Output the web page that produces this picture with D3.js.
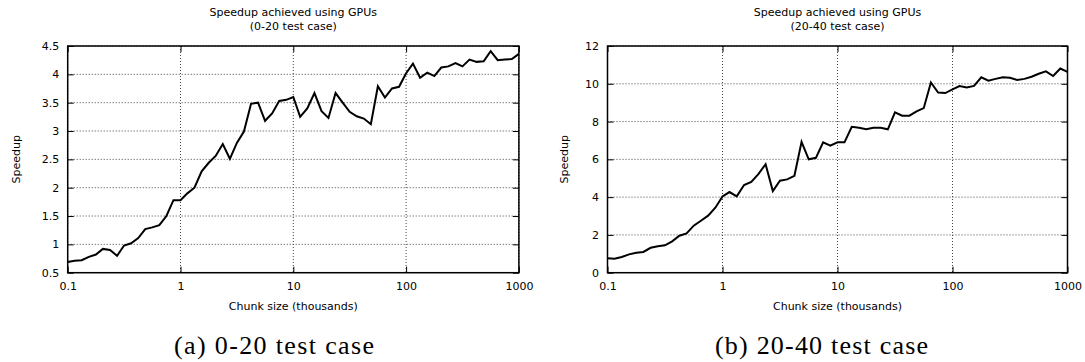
<!DOCTYPE html>
<head>
<meta charset="utf-8">
<title>Speedup achieved using GPUs</title>
<script type="text/javascript" src="https://d3js.org/d3.v7.min.js"></script>
<style>
body { margin: 0; background: #fff; }
svg { display: block; }
.tick text { font-family: "DejaVu Sans", sans-serif; font-size: 11px; fill: #000; }
.lbl { font-family: "DejaVu Sans", sans-serif; font-size: 11px; fill: #000; }
.cap { font-family: "Liberation Serif", serif; font-size: 26px; fill: #000; }
.grid line { stroke: #444; stroke-width: 1; stroke-dasharray: 1,2; }
</style>
</head>
<body>
<div id="container"></div>

<script>
//*******************
//data
//*******************
// chunk size in thousands (x axis, log scale)
const chunkSize = [
  0.1, 0.115, 0.133, 0.154, 0.178, 0.205, 0.237, 0.274, 0.316, 0.365, 0.422, 0.487, 0.562, 0.649, 0.75, 0.866,
  1, 1.15, 1.33, 1.54, 1.78, 2.05, 2.37, 2.74, 3.16, 3.65, 4.22, 4.87, 5.62, 6.49, 7.5, 8.66,
  10, 11.5, 13.3, 15.4, 17.8, 20.5, 23.7, 27.4, 31.6, 36.5, 42.2, 48.7, 56.2, 64.9, 75, 86.6,
  100, 115, 133, 154, 178, 205, 237, 274, 316, 365, 422, 487, 562, 649, 750, 866,
  1000
];

// speedup, 0-20 test case
const speedupA = [
  0.69, 0.71, 0.72, 0.78, 0.82, 0.92, 0.90, 0.80, 0.98, 1.02, 1.11, 1.27, 1.30, 1.34, 1.50, 1.78,
  1.78, 1.90, 2.00, 2.29, 2.44, 2.56, 2.77, 2.51, 2.79, 2.99, 3.48, 3.50, 3.18, 3.31, 3.53, 3.55,
  3.60, 3.25, 3.40, 3.67, 3.35, 3.23, 3.67, 3.50, 3.34, 3.26, 3.22, 3.12, 3.79, 3.59, 3.75, 3.78,
  4.02, 4.19, 3.94, 4.03, 3.97, 4.12, 4.14, 4.20, 4.14, 4.26, 4.22, 4.23, 4.41, 4.25, 4.26, 4.27,
  4.36
];

// speedup, 20-40 test case
const speedupB = [
  0.76, 0.74, 0.83, 0.97, 1.06, 1.10, 1.32, 1.40, 1.45, 1.66, 1.96, 2.08, 2.49, 2.75, 3.02, 3.44,
  4.04, 4.27, 4.04, 4.64, 4.80, 5.22, 5.74, 4.32, 4.87, 4.94, 5.13, 6.93, 6.00, 6.08, 6.90, 6.72,
  6.90, 6.90, 7.72, 7.67, 7.60, 7.67, 7.67, 7.59, 8.49, 8.31, 8.31, 8.54, 8.71, 10.07, 9.54, 9.51,
  9.70, 9.88, 9.81, 9.89, 10.34, 10.16, 10.26, 10.35, 10.32, 10.20, 10.26, 10.37, 10.53, 10.66, 10.41, 10.81,
  10.63
];

const xTicks = [0.1, 1, 10, 100, 1000];
const yTicksA = [0.5, 1, 1.5, 2, 2.5, 3, 3.5, 4, 4.5];
const yTicksB = [0, 2, 4, 6, 8, 10, 12];

//*******************
//setup svg
//*******************
const W = 1085, H = 362;
const svg = d3.select("div#container").append("svg")
    .attr("width", W)
    .attr("height", H);

svg.append("rect").attr("width", W).attr("height", H).attr("fill", "#fff");

const plotTop = 46, plotBottom = 272.7;
const fmt = d3.format("~g");

function drawPanel(p) {
    const x = d3.scaleLog().domain([0.1, 1000]).range([p.left, p.right]);
    const y = d3.scaleLinear().domain(p.yDomain).range([plotBottom, plotTop]);
    const g = svg.append("g");

    //grid
    const grid = g.append("g").attr("class", "grid");
    grid.selectAll(".gx").data(xTicks).enter().append("line")
        .attr("x1", d => x(d)).attr("x2", d => x(d))
        .attr("y1", plotTop).attr("y2", plotBottom);
    grid.selectAll(".gy").data(p.yTicks).enter().append("line")
        .attr("x1", p.left).attr("x2", p.right)
        .attr("y1", d => y(d)).attr("y2", d => y(d));

    //data line
    const line = d3.line()
        .x((d, i) => x(chunkSize[i]))
        .y(d => y(d));
    g.append("path")
        .datum(p.values)
        .attr("d", line)
        .attr("fill", "none")
        .attr("stroke", "#000")
        .attr("stroke-width", 2)
        .attr("stroke-linejoin", "miter");

    //axes, ticks pointing inside and mirrored
    const ax = [
        [d3.axisBottom(x).tickValues(xTicks).tickFormat(fmt), "translate(0," + plotBottom + ")"],
        [d3.axisTop(x).tickValues(xTicks).tickFormat(""), "translate(0," + plotTop + ")"],
        [d3.axisLeft(y).tickValues(p.yTicks).tickFormat(fmt), "translate(" + p.left + ",0)"],
        [d3.axisRight(y).tickValues(p.yTicks).tickFormat(""), "translate(" + p.right + ",0)"]
    ];
    ax.forEach(function(a, i) {
        const axis = a[0].tickSize(-6).tickPadding(i == 0 ? 10 : 8.5);
        const ga = g.append("g").attr("transform", a[1]).call(axis);
        ga.select(".domain").remove();
        ga.selectAll(".tick line").attr("stroke", "#000").attr("stroke-width", 1);
        ga.attr("font-family", null).attr("font-size", null);
    });

    //frame
    g.append("rect")
        .attr("x", p.left).attr("y", plotTop)
        .attr("width", p.right - p.left).attr("height", plotBottom - plotTop)
        .attr("fill", "none").attr("stroke", "#000").attr("stroke-width", 1.5);

    //titles
    const cx = (p.left + p.right) / 2;
    g.append("text").attr("class", "lbl").attr("x", cx).attr("y", 16)
        .attr("text-anchor", "middle").text("Speedup achieved using GPUs");
    g.append("text").attr("class", "lbl").attr("x", cx).attr("y", 29.5)
        .attr("text-anchor", "middle").text(p.sub);
    g.append("text").attr("class", "lbl").attr("x", cx).attr("y", 310)
        .attr("text-anchor", "middle").text("Chunk size (thousands)");
    g.append("text").attr("class", "lbl")
        .attr("transform", "translate(" + p.yLabelX + "," + ((plotTop + plotBottom) / 2) + ") rotate(-90)")
        .attr("text-anchor", "middle").attr("dy", "0.35em").text("Speedup");

    //caption
    g.append("text").attr("class", "cap")
        .attr("x", p.capX).attr("y", 354)
        .attr("textLength", p.capW).attr("lengthAdjust", "spacing")
        .text(p.caption);
}

drawPanel({
    left: 67.7, right: 518.9, yDomain: [0.5, 4.5], yTicks: yTicksA, values: speedupA,
    sub: "(0-20 test case)", yLabelX: 16, caption: "(a) 0-20 test case", capX: 174, capW: 200
});

drawPanel({
    left: 607.5, right: 1067.5, yDomain: [0, 12], yTicks: yTicksB, values: speedupB,
    sub: "(20-40 test case)", yLabelX: 564, caption: "(b) 20-40 test case", capX: 715, capW: 213
});
</script>
</body>
